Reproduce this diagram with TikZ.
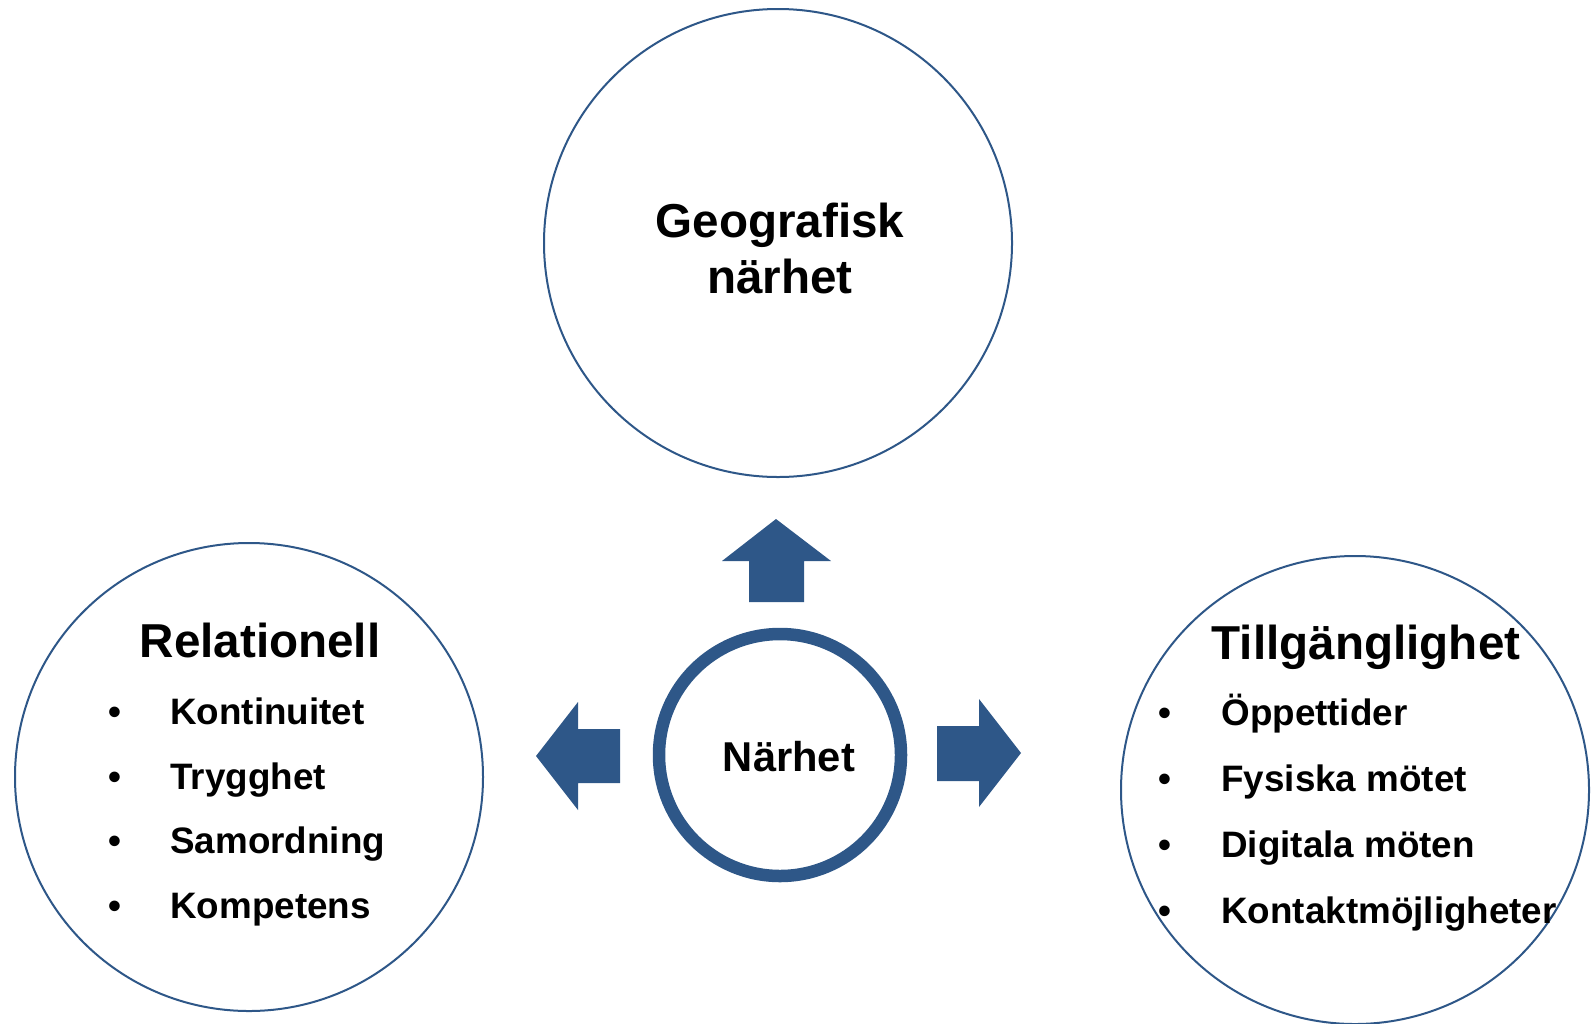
\documentclass[tikz,border=0pt]{standalone}
\usepackage{fontspec}
\setmainfont{Liberation Sans}
\usetikzlibrary{positioning}
\definecolor{colorAzul}{HTML}{2E5788}

\begin{document}
\begin{tikzpicture}[x=0.5pt, y=-0.5pt,
        ring/.style={circle, draw=colorAzul, line width=1pt, minimum size=234pt, inner sep=0pt},
        hub/.style={circle, draw=colorAzul, line width=6.25pt, minimum size=121pt, inner sep=0pt},
        titel/.style={font=\bfseries\fontsize{23.8}{28}\selectfont, inner sep=0pt, anchor=base},
        punkt/.style={font=\bfseries\fontsize{18.4}{22}\selectfont, inner sep=0pt, anchor=base west},
        pil/.style={fill=colorAzul}
    ]
        \useasboundingbox (0,0) rectangle (1594,1023);
        \node[ring] (geo) at (778,243) {};
        \node[ring] (rel) at (249,777) {};
        \node[ring] (till) at (1355,790) {};
        \node[hub] (nar) at (780,755) {};

        \node[titel, align=center, anchor=center] (geoT) at (780,248) {Geografisk\\närhet};
        \node[font=\bfseries\fontsize{20.85}{25}\selectfont, inner sep=0pt, anchor=base] (narT) at (789,771) {Närhet};

        \node[titel] (relT) at (260,657) {Relationell};
        \node[punkt] (r1) at (108,724) {•}; \node[punkt] (r1t) at (170,724) {Kontinuitet};
        \node[punkt] (r2) at (108,789) {•}; \node[punkt] (r2t) at (170,789) {Trygghet};
        \node[punkt] (r3) at (108,853) {•}; \node[punkt] (r3t) at (170,853) {Samordning};
        \node[punkt] (r4) at (108,918) {•}; \node[punkt] (r4t) at (170,918) {Kompetens};

        \node[titel] (tillT) at (1366,659) {Tillgänglighet};
        \node[punkt] (t1) at (1158,725) {•}; \node[punkt] (t1t) at (1221,725) {Öppettider};
        \node[punkt] (t2) at (1158,791) {•}; \node[punkt] (t2t) at (1221,791) {Fysiska mötet};
        \node[punkt] (t3) at (1158,857) {•}; \node[punkt] (t3t) at (1221,857) {Digitala möten};
        \node[punkt] (t4) at (1158,923) {•}; \node[punkt] (t4t) at (1221,923) {Kontaktmöjligheter};

        % block arrows
        \fill[pil] (776,519) -- (831,561) -- (804,561) -- (804,602) -- (749,602) -- (749,561) -- (722,561) -- cycle;
        \fill[pil] (536,756) -- (578,702) -- (578,729) -- (620,729) -- (620,783) -- (578,783) -- (578,810) -- cycle;
        \fill[pil] (1021,753) -- (979,699) -- (979,726) -- (937,726) -- (937,781) -- (979,781) -- (979,807) -- cycle;
    \end{tikzpicture}
\end{document}
